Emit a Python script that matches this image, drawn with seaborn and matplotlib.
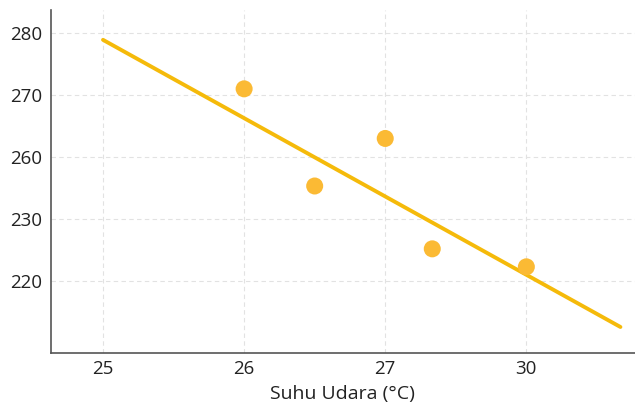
import numpy as np
import pandas as pd
import seaborn as sns
import matplotlib.pyplot as plt

# label sumbu (jarak antar label sama, bukan skala linear)
x_ticks = [25, 26, 27, 30]
y_ticks = [220, 230, 260, 270, 280]

# titik data
suhu = [26, 26.5, 27, 28.0, 30]
nilai = [271, 246, 263, 225.2, 222.3]

# garis tren (ujung-ujung)
garis_suhu = [25, 32.0]
garis_nilai = [278.9, 212.6]


def ke_posisi(v, ticks):
    # petakan nilai ke posisi label (linear per segmen, diperpanjang di ujung)
    v = np.asarray(v, dtype=float)
    t = np.asarray(ticks, dtype=float)
    idx = np.arange(len(t), dtype=float)
    p = np.interp(v, t, idx)
    lo = v < t[0]
    hi = v > t[-1]
    p[lo] = (v[lo] - t[0]) / (t[1] - t[0])
    p[hi] = len(t) - 1 + (v[hi] - t[-1]) / (t[-1] - t[-2])
    return p


titik = pd.DataFrame({'x': ke_posisi(suhu, x_ticks), 'y': ke_posisi(nilai, y_ticks)})
garis = pd.DataFrame({'x': ke_posisi(garis_suhu, x_ticks), 'y': ke_posisi(garis_nilai, y_ticks)})

sns.set_style('white')
plt.rcParams['font.family'] = ['Open Sans', 'DejaVu Sans']

fig = plt.figure(figsize=(6.35, 4.03), dpi=100)
ax = fig.add_axes([0.080, 0.124, 0.92, 0.851])

sns.lineplot(data=garis, x='x', y='y', color='#F5BA0A', linewidth=2.8, ax=ax, zorder=3)
sns.scatterplot(data=titik, x='x', y='y', color='#FBBA34', s=150, edgecolor='none', ax=ax, zorder=4)

ax.set_xticks(range(len(x_ticks)))
ax.set_xticklabels([str(t) for t in x_ticks])
ax.set_yticks(range(len(y_ticks)))
ax.set_yticklabels([str(t) for t in y_ticks])
ax.set_xlim(-0.37, 3.77)
ax.set_ylim(-1.16, 4.37)

ax.grid(True, color='#E2E2E2', linestyle=(0, (4, 3)), linewidth=0.8)
ax.tick_params(axis='both', length=0, labelsize=13.5, colors='#222222')
ax.tick_params(axis='x', pad=5)
ax.tick_params(axis='y', pad=6)
for s in ['top', 'right']:
    ax.spines[s].set_visible(False)
for s in ['left', 'bottom']:
    ax.spines[s].set_color('#555555')
    ax.spines[s].set_linewidth(1.2)

ax.set_xlabel('Suhu Udara (°C)', fontsize=14, color='#222222', labelpad=5)
ax.set_ylabel('')

fig.savefig('out.png', dpi=100)
